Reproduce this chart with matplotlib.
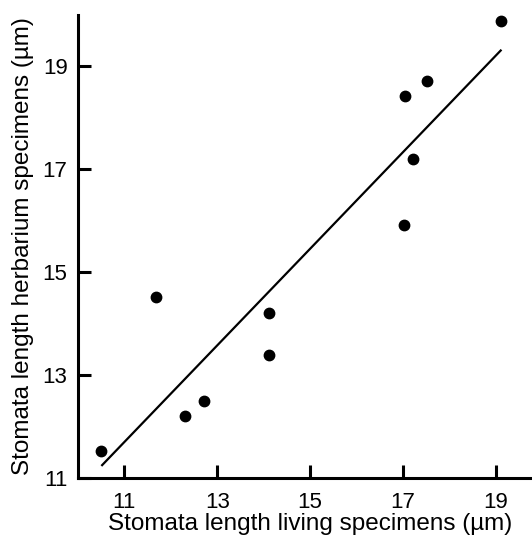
import matplotlib
matplotlib.use("Agg")
import matplotlib.pyplot as plt

# values
living = [10.50, 11.69, 12.30, 12.71, 14.11, 14.11, 17.04, 17.52, 17.23, 17.03, 19.11]
herbarium = [11.53, 14.52, 12.20, 12.50, 14.20, 13.39, 18.42, 18.71, 17.21, 15.91, 19.88]
fit_x = [10.52, 19.11]
fit_y = [11.25, 19.31]
ticks = [11, 13, 15, 17, 19]

plt.rcParams["font.family"] = ["Liberation Sans", "DejaVu Sans"]

fig = plt.figure(figsize=(5.32, 5.36), dpi=100)
ax = fig.add_axes([78 / 532, 58 / 536, 464 / 532, 463 / 536])

ax.scatter(living, herbarium, s=56, color="black", zorder=3)
ax.plot(fit_x, fit_y, color="black", linewidth=1.6)

ax.set_xlim(10, 20)
ax.set_ylim(11, 20)
ax.set_xticks(ticks)
ax.set_yticks(ticks)
ax.tick_params(direction="in", length=9.5, width=2.2, labelsize=16)
ax.tick_params(axis="x", pad=10)
ax.tick_params(axis="y", pad=7.5)
ax.spines["top"].set_visible(False)
ax.spines["right"].set_visible(False)
ax.spines["left"].set_linewidth(2.2)
ax.spines["bottom"].set_linewidth(2.2)

ax.set_xlabel("Stomata length living specimens (µm)", fontsize=17.5, labelpad=0)
ax.set_ylabel("Stomata length herbarium specimens (µm)", fontsize=17.5, labelpad=6)

fig.savefig("out.png", dpi=100)
